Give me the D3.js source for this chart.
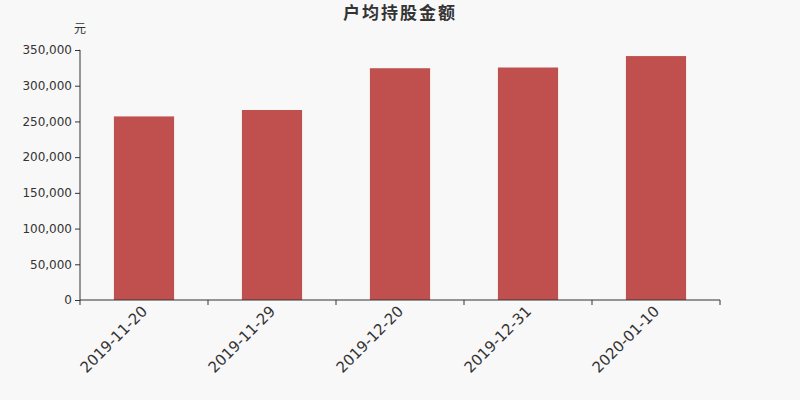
<!DOCTYPE html>
<html>
<head>
<meta charset="utf-8">
<script src="https://cdn.jsdelivr.net/npm/d3@7"></script>
<style>
  body { margin: 0; background: #f8f8f8; }
  svg { display: block; font-family: "DejaVu Sans", "Noto Sans CJK SC", sans-serif; }
</style>
</head>
<body>
<div class="canvas"></div>
<script>
const dates = ["2019-11-20", "2019-11-29", "2019-12-20", "2019-12-31", "2020-01-10"];
const values = [257000, 266000, 324500, 325500, 341500];
const yTicks = [0, 50000, 100000, 150000, 200000, 250000, 300000, 350000];

const width = 800, height = 400;
const margin = {top: 50, right: 80, bottom: 100, left: 80};

const svg = d3.select(".canvas").append("svg")
    .attr("width", width)
    .attr("height", height);

svg.append("rect")
    .attr("width", width)
    .attr("height", height)
    .attr("fill", "#f8f8f8");

const x = d3.scaleBand()
    .domain(dates)
    .range([margin.left, width - margin.right])
    .paddingInner(0.53)
    .paddingOuter(0.265);

const xAxisScale = d3.scaleBand()
    .domain(dates)
    .range([margin.left, width - margin.right]);

const y = d3.scaleLinear()
    .domain([0, 350000])
    .range([height - margin.bottom, margin.top]);

// title
svg.append("text")
    .attr("x", 400)
    .attr("y", 19)
    .attr("text-anchor", "middle")
    .attr("font-size", 17)
    .attr("font-weight", "bold")
    .attr("letter-spacing", 2)
    .attr("fill", "#333")
    .attr("font-family", "Noto Sans CJK SC")
    .text("户均持股金额");

// unit
svg.append("text")
    .attr("x", 80)
    .attr("y", 33)
    .attr("text-anchor", "middle")
    .attr("font-size", 12)
    .attr("fill", "#333")
    .attr("font-family", "Noto Sans CJK SC")
    .text("元");

// bars
svg.selectAll("rect.bar")
    .data(values)
    .enter().append("rect")
    .attr("class", "bar")
    .attr("x", (d, i) => x(dates[i]))
    .attr("width", x.bandwidth())
    .attr("y", d => y(d))
    .attr("height", d => y(0) - y(d))
    .attr("fill", "#c0504d");

// y axis
const yAxis = svg.append("g")
    .attr("transform", `translate(${margin.left},0)`)
    .call(d3.axisLeft(y).tickValues(yTicks).tickFormat(d3.format(",")).tickSize(5).tickPadding(3))
    .attr("font-family", "DejaVu Sans");
yAxis.select(".domain").attr("stroke", "#333").attr("d", `M-0.5,${y(350000)}H0V${y(0)}`);
yAxis.selectAll(".tick line").attr("stroke", "#333");
yAxis.selectAll(".tick text").attr("fill", "#333").attr("font-size", 12);

// x axis
const xAxis = svg.append("g")
    .attr("transform", `translate(0,${height - margin.bottom})`);
xAxis.append("line")
    .attr("x1", margin.left)
    .attr("x2", width - margin.right)
    .attr("stroke", "#333");
const bounds = dates.map(d => xAxisScale(d)).concat([width - margin.right]);
xAxis.selectAll("line.tk")
    .data(bounds)
    .enter().append("line")
    .attr("class", "tk")
    .attr("x1", d => d).attr("x2", d => d)
    .attr("y1", 0).attr("y2", 5)
    .attr("stroke", "#333");
xAxis.selectAll("text.lbl")
    .data(dates)
    .enter().append("text")
    .attr("class", "lbl")
    .attr("transform", d => `translate(${xAxisScale(d) + xAxisScale.bandwidth() / 2 + 1},${9}) rotate(-45)`)
    .attr("text-anchor", "end")
    .attr("dominant-baseline", "middle")
    .attr("font-size", 15)
    .attr("font-family", "DejaVu Sans")
    .attr("fill", "#333")
    .text(d => d);
</script>
</body>
</html>
